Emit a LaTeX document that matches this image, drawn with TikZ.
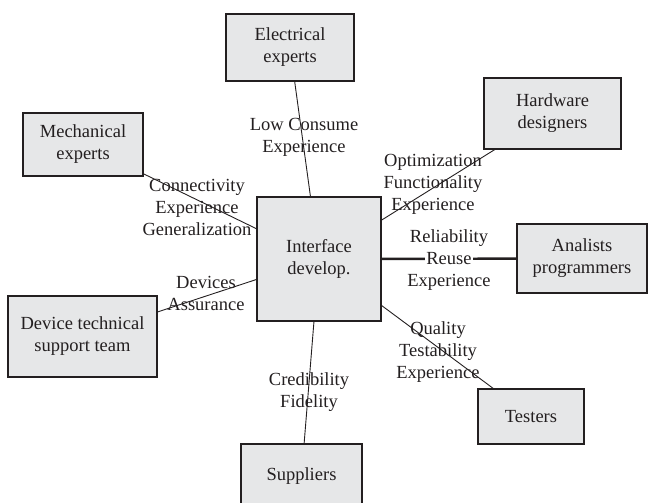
\documentclass[tikz,border=0pt]{standalone}
\usepackage{fontspec}
\setmainfont{Liberation Serif}
\definecolor{boxfill}{RGB}{230,231,232}
\definecolor{ink}{RGB}{35,31,32}
\begin{document}
\begin{tikzpicture}[x=1pt,y=-1pt,
  every node/.style={font=\fontsize{18.5}{22}\selectfont, text=ink},
  actor/.style={draw=ink, line width=1.2pt, fill=boxfill, align=center, inner sep=0pt},
  link/.style={draw=ink, line width=0.9pt},
  biglink/.style={draw=ink, line width=2.4pt},
  lbl/.style={align=center, inner sep=0pt}]
\useasboundingbox (0,0) rectangle (648,503);
\clip (0,0) rectangle (648,503);
% boxes
\node[actor, minimum width=128pt, minimum height=67pt] (elec) at (290,47.5) {Electrical\\experts};
\node[actor, minimum width=137pt, minimum height=71pt] (hw) at (552.5,113.5) {Hardware\\designers};
\node[actor, minimum width=120pt, minimum height=63pt] (mech) at (83,144.5) {Mechanical\\experts};
\node[actor, minimum width=124pt, minimum height=124pt] (iface) at (319,259) {Interface\\develop.};
\node[actor, minimum width=130pt, minimum height=69pt] (anal) at (582,258.5) {Analists\\programmers};
\node[actor, minimum width=149pt, minimum height=81pt] (dev) at (82.5,336.5) {Device technical\\support team};
\node[actor, minimum width=106pt, minimum height=55pt] (test) at (531,416.5) {Testers};
\node[actor, minimum width=121pt, minimum height=64pt] (supp) at (301.5,476) {Suppliers};
% connectors
\draw[link] (elec) -- (iface);
\draw[link] (hw) -- (iface);
\draw[link] (mech) -- (iface);
\draw[link] (dev) -- (iface);
\draw[link] (test) -- (iface);
\draw[link] (supp) -- (iface);
\draw[biglink] (iface) -- (anal);
% labels
\node[lbl] (l1) at (304,137.5) {Low Consume\\Experience};
\node[lbl] (l2) at (433,184) {Optimization\\Functionality\\Experience};
\node[lbl] (l3) at (197,207) {Connectivity\\Experience\\Generalization};
\node[lbl] (l4) at (449,260.5) {Reliability\\{\setlength\fboxsep{1.5pt}\colorbox{white}{Reuse}}\\Experience};
\node[lbl] (l5) at (206,293) {Devices\\Assurance};
\node[lbl] (l6) at (438,352) {Quality\\Testability\\Experience};
\node[lbl] (l7) at (309,392) {Credibility\\Fidelity};
\end{tikzpicture}
\end{document}
